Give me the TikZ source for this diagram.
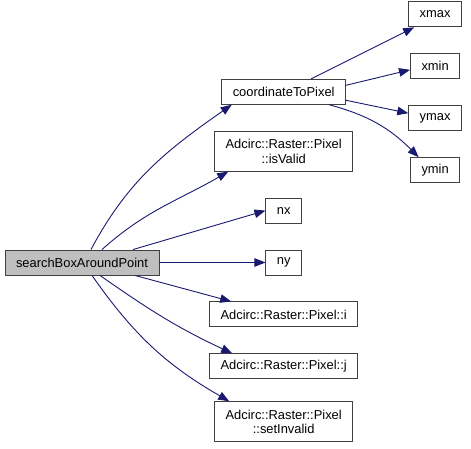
\documentclass[tikz,border=0pt]{standalone}
\usepackage{fontspec}
\setmainfont{Liberation Sans}
\usepackage{tikz}
\usetikzlibrary{arrows.meta,positioning}
\definecolor{CallEdge}{HTML}{191970}
\definecolor{CallBorder}{HTML}{404040}
\definecolor{CallGrey}{HTML}{BFBFBF}

\begin{document}
\begin{tikzpicture}[
  x=1pt, y=1pt,
  font=\fontsize{12.9}{14.5}\selectfont,
  node distance=26pt and 106pt,
  fn/.style={draw=CallBorder, line width=0.9pt, fill=white, align=center,
    minimum height=25pt, inner xsep=11pt, inner ysep=6pt},
  fntwo/.style={fn, minimum height=40pt},
  root/.style={fn, fill=CallGrey},
  arr/.style={-{Triangle[length=11pt,width=8.5pt]}, line width=0.9pt, draw=CallEdge}
]
\useasboundingbox (0,0) rectangle (471,-449);
\node[root] (search) at (82,-262.5) {searchBoxAroundPoint};
\node[fn, right=of search] (ny) {ny};
\node[fn, above=of ny] (nx) {nx};
\node[fntwo, above=of nx] (isvalid) {Adcirc::Raster::Pixel\\::isValid};
\node[fn, above=of isvalid] (c2p) {coordinateToPixel};
\node[fn, below=of ny] (pi) {Adcirc::Raster::Pixel::i};
\node[fn, below=of pi] (pj) {Adcirc::Raster::Pixel::j};
\node[fntwo, below=22pt of pj] (setinvalid) {Adcirc::Raster::Pixel\\::setInvalid};
\node[fn, right=64pt of c2p, yshift=25.5pt] (xmin) {xmin};
\node[fn, above=of xmin] (xmax) {xmax};
\node[fn, below=of xmin] (ymax) {ymax};
\node[fn, below=of ymax] (ymin) {ymin};
% calls from searchBoxAroundPoint
\draw[arr] ([xshift=9pt]search.north) to[out=62, in=215] ([xshift=-52pt]c2p.south);
\draw[arr] ([xshift=20pt]search.north) to[out=42, in=210] ([xshift=-55.5pt]isvalid.south);
\draw[arr] ([xshift=51pt]search.north) -- (nx.west);
\draw[arr] (search) -- (ny);
\draw[arr] ([xshift=53pt]search.south) -- ([xshift=-52.5pt]pi.north);
\draw[arr] ([xshift=18pt]search.south) to[out=-35, in=155] ([xshift=-51.5pt]pj.north);
\draw[arr] ([xshift=10pt]search.south) to[out=-55, in=150] ([xshift=-54.5pt]setinvalid.north);
% calls from coordinateToPixel
\draw[arr] ([xshift=27.5pt]c2p.north) -- ([xshift=-21pt]xmax.south);
\draw[arr] ([yshift=6.5pt]c2p.east) -- ([yshift=-3.5pt]xmin.west);
\draw[arr] ([yshift=-8.5pt]c2p.east) -- ([yshift=5pt]ymax.west);
\draw[arr] ([xshift=45.5pt]c2p.south) to[out=-15, in=135] ([xshift=-16.5pt]ymin.north);
\end{tikzpicture}
\end{document}
